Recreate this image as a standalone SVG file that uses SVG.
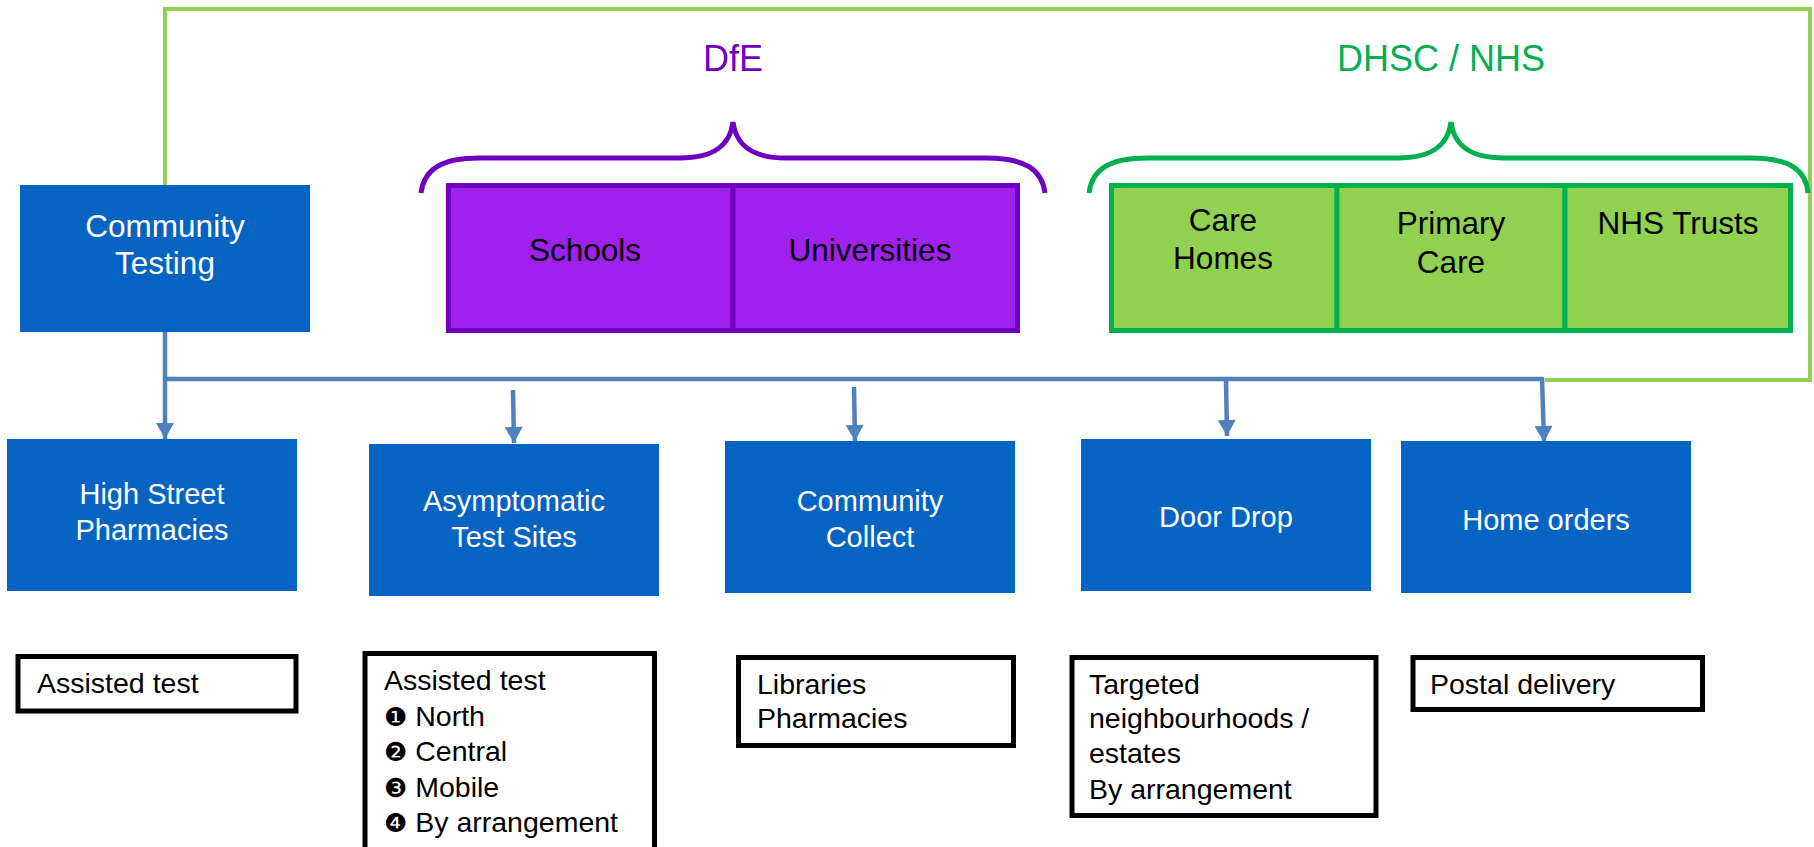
<svg xmlns="http://www.w3.org/2000/svg" width="1814" height="847" viewBox="0 0 1814 847">
<style>
  text { font-family: "Liberation Sans", Arial, sans-serif; }
  .blue { fill: #0563C1; }
  .wt { fill: #FFFFFF; text-anchor: middle; }
  .wt31 { font-size: 31.5px; }
  .wt29 { font-size: 29px; }
  .bt { fill: #000000; text-anchor: middle; font-size: 31.5px; }
  .pbox { fill: #A020F0; stroke: #7000C0; stroke-width: 5; }
  .gbox { fill: #92D050; stroke: #00B050; stroke-width: 5; }
  .tbox { fill: #FFFFFF; stroke: #000000; stroke-width: 5; }
  .tt { fill: #000000; font-size: 28.5px; }
  .num { font-family: "DejaVu Sans", "Liberation Sans", sans-serif; font-size: 26px; }
  .conn { fill: none; stroke: #4F81BD; stroke-width: 4.5; }
</style>
<defs>
  <marker id="arr" markerUnits="userSpaceOnUse" markerWidth="18" markerHeight="18" viewBox="0 0 16 18" refX="16" refY="9" orient="auto">
    <path d="M0,0 L16,9 L0,18 z" fill="#4F81BD"/>
  </marker>
</defs>

<!-- outer light-green frame -->
<g id="frame">
  <polyline points="165,185 165,9 1810,9 1810,380 1545,380" fill="none" stroke="#92D050" stroke-width="4"/>
</g>

<!-- headings and braces -->
<g id="dfe">
  <text x="733" y="71" font-size="36" fill="#7000C0" text-anchor="middle">DfE</text>
  <path d="M421,193 C424,170 440,158 480,158 L680,158 C715,158 730,145 733,122 C736,145 751,158 786,158 L986,158 C1026,158 1042,170 1045,193" fill="none" stroke="#7000C0" stroke-width="5"/>
</g>
<g id="dhsc">
  <text x="1441" y="71" font-size="36" fill="#00B050" text-anchor="middle">DHSC / NHS</text>
  <path d="M1089,193 C1092,170 1108,158 1148,158 L1398,158 C1433,158 1448,145 1451,122 C1454,145 1469,158 1504,158 L1750,158 C1790,158 1806,170 1808,193" fill="none" stroke="#00B050" stroke-width="5"/>
</g>

<!-- connectors -->
<g id="connectors">
  <path class="conn" d="M165,332 V379 H1543"/>
  <line class="conn" x1="165" y1="379" x2="165" y2="439" marker-end="url(#arr)"/>
  <line class="conn" x1="513" y1="390" x2="514" y2="443" marker-end="url(#arr)"/>
  <line class="conn" x1="854" y1="387" x2="855" y2="441" marker-end="url(#arr)"/>
  <line class="conn" x1="1226" y1="379" x2="1227" y2="436" marker-end="url(#arr)"/>
  <line class="conn" x1="1542" y1="377" x2="1544" y2="442" marker-end="url(#arr)"/>
</g>

<!-- top nodes -->
<g id="community-testing">
  <rect class="blue" x="20" y="185" width="290" height="147"/>
  <text class="wt wt31" x="165" y="237">Community</text>
  <text class="wt wt31" x="165" y="274">Testing</text>
</g>
<g id="schools">
  <rect class="pbox" x="448.5" y="185.5" width="284.5" height="145"/>
  <text class="bt" x="585" y="261">Schools</text>
</g>
<g id="universities">
  <rect class="pbox" x="733" y="185.5" width="284.5" height="145"/>
  <text class="bt" x="870" y="261">Universities</text>
</g>
<g id="care-homes">
  <rect class="gbox" x="1111.5" y="185.5" width="225.5" height="145"/>
  <text class="bt" x="1223" y="231">Care</text>
  <text class="bt" x="1223" y="269">Homes</text>
</g>
<g id="primary-care">
  <rect class="gbox" x="1337" y="185.5" width="228" height="145"/>
  <text class="bt" x="1451" y="234">Primary</text>
  <text class="bt" x="1451" y="273">Care</text>
</g>
<g id="nhs-trusts">
  <rect class="gbox" x="1565" y="185.5" width="225.5" height="145"/>
  <text class="bt" x="1678" y="234">NHS Trusts</text>
</g>

<!-- lower blue nodes -->
<g id="high-street">
  <rect class="blue" x="7" y="439" width="290" height="152"/>
  <text class="wt wt29" x="152" y="504">High Street</text>
  <text class="wt wt29" x="152" y="540">Pharmacies</text>
</g>
<g id="ats">
  <rect class="blue" x="369" y="444" width="290" height="152"/>
  <text class="wt wt29" x="514" y="511">Asymptomatic</text>
  <text class="wt wt29" x="514" y="547">Test Sites</text>
</g>
<g id="community-collect">
  <rect class="blue" x="725" y="441" width="290" height="152"/>
  <text class="wt wt29" x="870" y="511">Community</text>
  <text class="wt wt29" x="870" y="547">Collect</text>
</g>
<g id="door-drop">
  <rect class="blue" x="1081" y="439" width="290" height="152"/>
  <text class="wt wt29" x="1226" y="527">Door Drop</text>
</g>
<g id="home-orders">
  <rect class="blue" x="1401" y="441" width="290" height="152"/>
  <text class="wt wt29" x="1546" y="530">Home orders</text>
</g>

<!-- detail boxes -->
<g id="detail-high-street">
  <rect class="tbox" x="18" y="656.5" width="278" height="54.5"/>
  <text class="tt" x="37" y="693">Assisted test</text>
</g>
<g id="detail-ats">
  <rect class="tbox" x="365" y="653.5" width="289.5" height="220"/>
  <text class="tt" x="384" y="690">Assisted test</text>
  <text class="tt" x="384" y="725.5"><tspan class="num">❶</tspan> North</text>
  <text class="tt" x="384" y="761"><tspan class="num">❷</tspan> Central</text>
  <text class="tt" x="384" y="796.5"><tspan class="num">❸</tspan> Mobile</text>
  <text class="tt" x="384" y="832"><tspan class="num">❹</tspan> By arrangement</text>
</g>
<g id="detail-community-collect">
  <rect class="tbox" x="738.5" y="657.5" width="275" height="88"/>
  <text class="tt" x="757" y="694">Libraries</text>
  <text class="tt" x="757" y="728">Pharmacies</text>
</g>
<g id="detail-door-drop">
  <rect class="tbox" x="1072" y="657.5" width="304" height="158"/>
  <text class="tt" x="1089" y="694">Targeted</text>
  <text class="tt" x="1089" y="728">neighbourhoods /</text>
  <text class="tt" x="1089" y="763">estates</text>
  <text class="tt" x="1089" y="799">By arrangement</text>
</g>
<g id="detail-home-orders">
  <rect class="tbox" x="1413" y="657.5" width="289.5" height="52"/>
  <text class="tt" x="1430" y="694">Postal delivery</text>
</g>
</svg>
